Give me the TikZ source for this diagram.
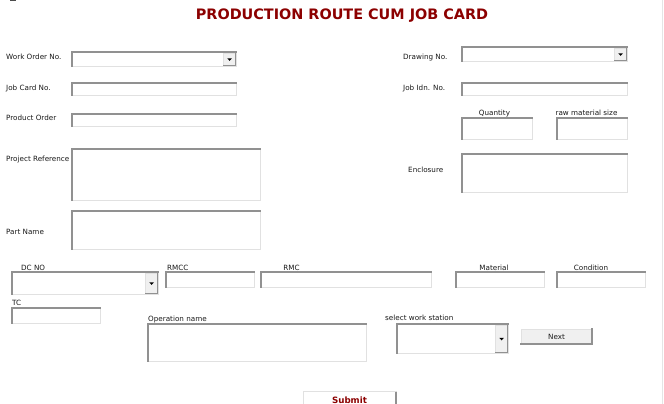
\documentclass[tikz,border=0pt]{standalone}
\usepackage{fontspec}
\setmainfont{DejaVu Sans}
\usetikzlibrary{calc}
\definecolor{ttlred}{RGB}{140,0,0}
\definecolor{edgedark}{RGB}{145,145,145}
\definecolor{edgelite}{RGB}{225,225,225}
\definecolor{btnfill}{RGB}{240,240,240}
\definecolor{txtcol}{RGB}{25,25,25}
\tikzset{
  field/.style={draw=edgelite, fill=white, line width=0.8pt, inner sep=0pt, outer sep=0pt, anchor=north west},
  sunken/.style={edgedark, line width=1.4pt, line cap=rect},
  ddbtn/.style={draw=edgelite, fill=btnfill, line width=0.8pt, inner sep=0pt, outer sep=0pt, anchor=north east},
  raised/.style={edgedark, line width=1.3pt, line cap=rect},
  raisedbtn/.style={draw=edgelite, fill=btnfill, line width=0.8pt, inner sep=0pt, outer sep=0pt, anchor=north west,
    font=\fontsize{7.2}{8}\selectfont, text=txtcol},
  submitbtn/.style={draw=edgelite, fill=white, line width=0.8pt, inner sep=0pt, outer sep=0pt, anchor=north west},
  lab/.style={font=\fontsize{7.2}{8}\selectfont, text=txtcol, inner sep=0pt, anchor=base west},
  labc/.style={lab, anchor=base},
}
\newcommand\fld[5]{\node[field, minimum width={#4-#2}, minimum height={#5-#3}] (#1) at (#2,#3) {};
  \draw[sunken] (#1.south west) -- (#1.north west) -- (#1.north east);}
\newcommand\ddn[5]{\fld{#1}{#2}{#3}{#4}{#5}%
  \node[ddbtn, minimum width=12, minimum height={#5-#3-2.2}] (#1b) at ($(#1.north east)+(-0.4,1.4)$) {};
  \draw[raised] (#1b.north east) -- (#1b.south east) -- (#1b.south west);
  \fill[black] ($(#1b.center)+(-2.3,-1)$) -- ++(4.6,0) -- ++(-2.3,2.6) -- cycle;}
\begin{document}
\begin{tikzpicture}[x=1pt,y=-1pt]
\useasboundingbox[fill=white] (0,0) rectangle (664,404);
% window edge details
\fill[black!70] (10,0) rectangle (16,1.5);
\draw[black!10, line width=0.8pt] (662.5,0) -- (662.5,404);
% title
\node[font=\fontsize{14.4}{16}\bfseries\selectfont, text=ttlred, anchor=base, inner sep=0pt] (ttl) at (342,19.5) {PRODUCTION ROUTE CUM JOB CARD};
% fields
\ddn{wo}{72}{52}{236}{66}
\fld{jc}{72}{83}{236}{95}
\fld{po}{72}{114}{236}{126}
\fld{pr}{72}{149}{260}{200}
\fld{pn}{72}{211}{260}{249}
\ddn{dn}{462}{47}{627}{61}
\fld{ji}{462}{83}{627}{95}
\fld{qt}{462}{118}{532}{139}
\fld{rm}{557}{118}{627}{139}
\fld{en}{462}{154}{627}{192}
\ddn{dc}{12}{272}{158}{294}
\fld{rmcc}{166}{272}{254}{287}
\fld{rmc}{261}{272}{431}{287}
\fld{mat}{456}{272}{544}{287}
\fld{cond}{557}{272}{645}{287}
\fld{tc}{12}{308}{100}{323}
\fld{op}{148}{324}{366}{361}
\ddn{ws}{397}{324}{508}{353}
% labels
\node[lab] (lwo) at (6,59.5) {Work Order No.};
\node[lab] (ljc) at (6,90.5) {Job Card No.};
\node[lab] (lpo) at (6,121) {Product Order};
\node[lab] (lpr) at (6,161) {Project Reference};
\node[lab] (lpn) at (6,234) {Part Name};
\node[lab] (ldn) at (403,59.5) {Drawing No.};
\node[lab] (lji) at (403,90.5) {Job Idn. No.};
\node[labc] (lqt) at (494.5,115.5) {Quantity};
\node[labc] (lrm) at (586.5,115.5) {raw material size};
\node[lab] (len) at (408,172) {Enclosure};
\node[lab] (ldc) at (21,270) {DC NO};
\node[lab] (lrmcc) at (167,270) {RMCC};
\node[labc] (lrmc) at (291.5,270) {RMC};
\node[labc] (lmat) at (494,270) {Material};
\node[labc] (lcond) at (591,270) {Condition};
\node[lab] (ltc) at (12,305) {TC};
\node[lab] (lop) at (148,321) {Operation name};
\node[lab] (lws) at (385,320.5) {select work station};
% buttons
\node[raisedbtn, minimum width=71, minimum height=15] (next) at (521,329) {Next};
\draw[raised] (next.north east) -- (next.south east) -- (next.south west);
\node[submitbtn, minimum width=93, minimum height=22] (sub) at (303,391.5) {};
\draw[edgedark, line width=1.4pt] (sub.north east) -- (sub.south east);
\node[font=\fontsize{8.7}{10}\bfseries\selectfont, text=ttlred, anchor=base, inner sep=0pt] (subt) at (349.5,403.6) {Submit};
\end{tikzpicture}
\end{document}
